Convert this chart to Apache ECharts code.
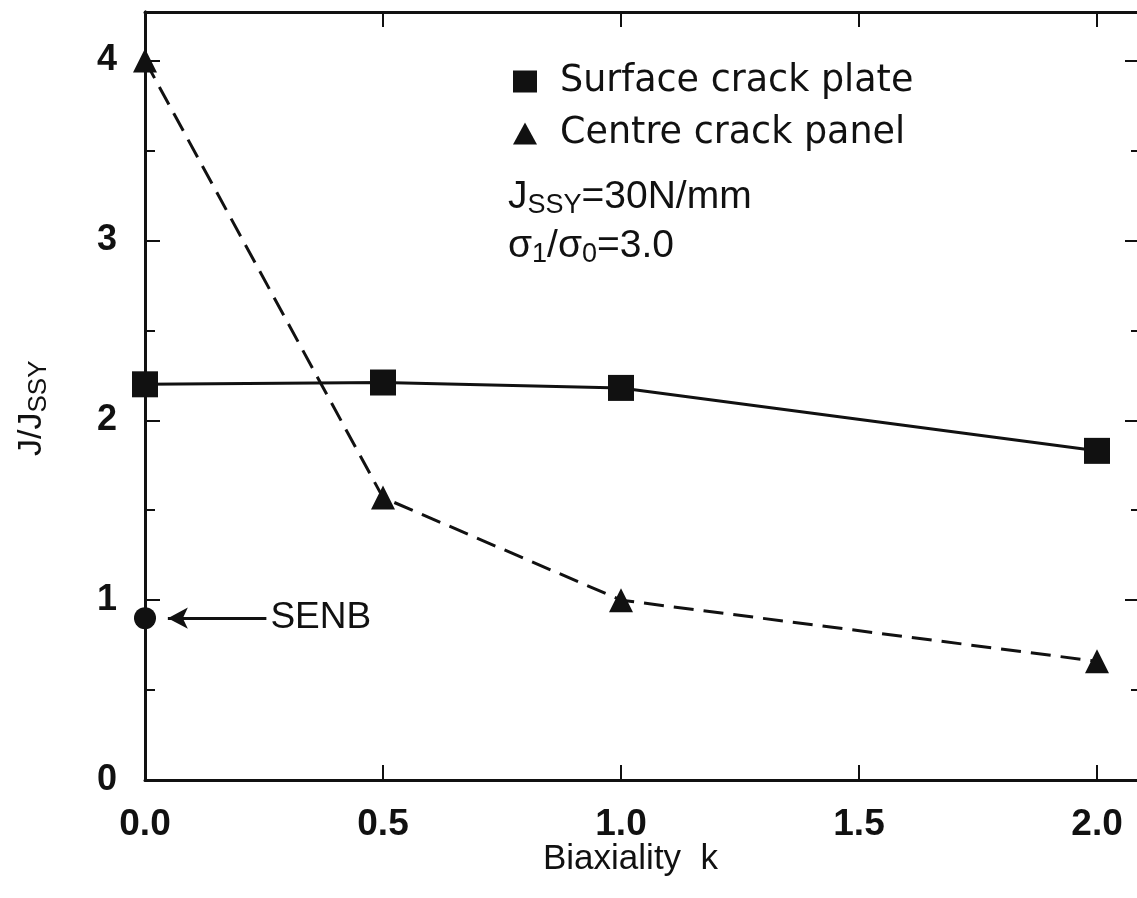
<!DOCTYPE html>
<html>
<head>
<meta charset="utf-8">
<script src="https://cdn.jsdelivr.net/npm/echarts@6/dist/echarts.min.js"></script>
<style>
  html, body { margin: 0; padding: 0; background: #fff; }
  #chart { width: 1137px; height: 898px; }
</style>
</head>
<body>
<div id="chart"></div>
<script>
// data
var kValues = [0, 0.5, 1.0, 2.0];
var surfaceCrack = [2.2, 2.21, 2.18, 1.83];
var centreCrack = [4.0, 1.57, 1.0, 0.66];
var senbK = [0];
var senbJ = [0.9];
var xTicks = [0.5, 1.0, 1.5, 2.0];
var xLabels = [0, 0.5, 1.0, 1.5, 2.0];
var yMajor = [1, 2, 3, 4];
var yMinor = [0.5, 1.5, 2.5, 3.5];
var yLabels = [0, 1, 2, 3, 4];

function zip(xs, ys) {
    return xs.map(function (x, i) { return [x, ys[i]]; });
}

var ink = '#111';
var font = 'Liberation Sans';

function xAx(pos, showLabel) {
    return {
        type: 'value', position: pos, min: 0, max: 2.084,
        axisLine: { show: true, onZero: false, lineStyle: { color: ink, width: 3 } },
        axisTick: { show: true, inside: true, length: 15, customValues: xTicks, lineStyle: { color: ink, width: 2 } },
        axisLabel: {
            show: showLabel, customValues: xLabels, margin: 26,
            color: ink, fontSize: 37, fontWeight: 'bold', fontFamily: font,
            formatter: function (v) { return v.toFixed(1); }
        },
        splitLine: { show: false }
    };
}

function yAx(pos, ticks, len, showLabel, showLine) {
    return {
        type: 'value', position: pos, min: 0, max: 4.27,
        axisLine: { show: showLine, onZero: false, lineStyle: { color: ink, width: 3 } },
        axisTick: { show: true, inside: true, length: len, customValues: ticks, lineStyle: { color: ink, width: 2 } },
        axisLabel: {
            show: showLabel, customValues: yLabels, margin: 28,
            color: ink, fontSize: 36, fontWeight: 'bold', fontFamily: font
        },
        splitLine: { show: false }
    };
}

var myChart = echarts.init(document.getElementById('chart'));

var option = {
    animation: false,
    backgroundColor: '#fff',
    grid: { left: 145, right: 0, top: 12, bottom: 118 },
    xAxis: [xAx('bottom', true), xAx('top', false)],
    yAxis: [
        yAx('left', yMajor, 15, true, true),
        yAx('left', yMinor, 10, false, true),
        // the right frame line falls just past the picture edge; only its ticks show
        yAx('right', yMajor, 12, false, false),
        yAx('right', yMinor, 6, false, false)
    ],
    legend: {
        orient: 'vertical', left: 508, top: 58,
        itemWidth: 24, itemHeight: 22, itemGap: 15,
        textStyle: { color: ink, fontSize: 36.5, fontFamily: 'DejaVu Sans', lineHeight: 30, padding: [0, 0, 0, 18] },
        data: [
            { name: 'Surface crack plate', icon: 'rect' },
            { name: 'Centre crack panel', icon: 'triangle' }
        ]
    },
    graphic: [
        {
            type: 'text', left: 508, top: 178,
            style: {
                text: '{b|J}{s|SSY}{b|=30N/mm}',
                fill: ink,
                rich: {
                    b: { fontSize: 39, fontFamily: font, fill: ink },
                    s: { fontSize: 27, fontFamily: font, fill: ink, padding: [16, 0, 0, 0] }
                }
            }
        },
        {
            type: 'text', left: 508, top: 227,
            style: {
                text: '{b|σ}{s|1}{b|/σ}{s|0}{b|=3.0}',
                fill: ink,
                rich: {
                    b: { fontSize: 39, fontFamily: font, fill: ink },
                    s: { fontSize: 27, fontFamily: font, fill: ink, padding: [16, 0, 0, 0] }
                }
            }
        },
        {
            type: 'text', x: 12, y: 456, rotation: Math.PI / 2,
            style: {
                text: '{b|J/J}{s|SSY}',
                fill: ink,
                rich: {
                    b: { fontSize: 34, fontFamily: font, fill: ink },
                    s: { fontSize: 26, fontFamily: font, fill: ink, padding: [14, 0, 0, 0] }
                }
            }
        },
        {
            type: 'text', left: 543, top: 842,
            style: { text: 'Biaxiality  k', fill: ink, fontSize: 35, fontFamily: font }
        }
    ],
    series: [
        {
            name: 'Surface crack plate', type: 'line',
            data: zip(kValues, surfaceCrack),
            symbol: 'rect', symbolSize: 26,
            itemStyle: { color: ink },
            lineStyle: { color: ink, width: 3 }
        },
        {
            name: 'Centre crack panel', type: 'line',
            data: zip(kValues, centreCrack),
            symbol: 'triangle', symbolSize: 24,
            itemStyle: { color: ink },
            lineStyle: { color: ink, width: 3, type: [20, 10] }
        },
        {
            name: 'SENB', type: 'scatter',
            data: zip(senbK, senbJ),
            symbol: 'circle', symbolSize: 22,
            itemStyle: { color: ink, opacity: 1 },
            markLine: {
                silent: true,
                symbol: ['arrow', 'none'],
                symbolSize: [16, 20],
                lineStyle: { color: ink, width: 3, type: 'solid' },
                label: {
                    show: true, position: 'end', distance: 4,
                    formatter: 'SENB', color: ink, fontSize: 37, fontFamily: font
                },
                data: [[{ coord: [0.048, 0.9] }, { coord: [0.255, 0.9] }]]
            }
        }
    ]
};

myChart.setOption(option);
</script>
</body>
</html>
